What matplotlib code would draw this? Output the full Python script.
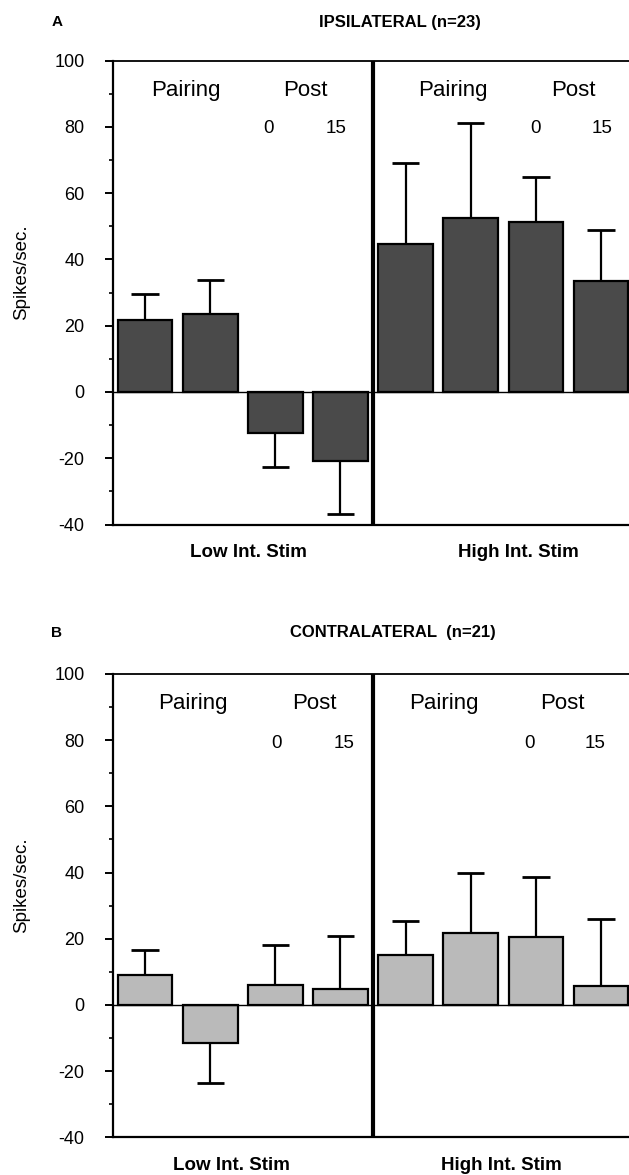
import matplotlib
matplotlib.use("Agg")
import matplotlib.pyplot as plt
import numpy as np

plt.rcParams["font.family"] = ["Liberation Sans", "DejaVu Sans"]
plt.rcParams["axes.unicode_minus"] = False

conditions = ["Low Pairing 1", "Low Pairing 2", "Low Post 0", "Low Post 15",
              "High Pairing 1", "High Pairing 2", "High Post 0", "High Post 15"]

ipsi_mean = [21.7, 23.6, -12.3, -20.8, 44.6, 52.4, 51.2, 33.6]
ipsi_err = [7.8, 10.3, 10.4, 16.1, 24.4, 28.6, 13.7, 15.4]

contra_mean = [9.0, -11.6, 6.1, 4.9, 15.0, 21.7, 20.6, 5.8]
contra_err = [7.5, 12.0, 12.0, 16.0, 10.4, 18.2, 18.1, 20.1]

W, H = 629, 1175
fig = plt.figure(figsize=(W / 100, H / 100), dpi=100)
fig.patch.set_facecolor("white")


def panel(rect, mean, err, color, letter, title, title_x, title_y, texts, xlab):
    ax = fig.add_axes(rect)
    x = np.arange(len(mean))
    m = np.array(mean)
    e = np.array(err)
    # one-sided error bars, pointing away from zero
    end = m + np.sign(m) * e
    ax.vlines(x, m, end, color="black", lw=1.6, zorder=2)
    ax.hlines(end, x - 0.21, x + 0.21, color="black", lw=2, zorder=2)
    ax.bar(x, m, width=0.84, color=color, edgecolor="black", linewidth=1.6, zorder=3)
    ax.axhline(0, color="black", lw=1.0, zorder=4)
    ax.axvline(3.5, color="black", lw=3, zorder=5)
    ax.set_xlim(-0.5, 7.43)
    ax.set_ylim(-40, 100)
    ax.set_yticks(np.arange(-40, 101, 20))
    ax.set_yticks(np.arange(-30, 100, 20), minor=True)
    ax.tick_params(axis="y", which="major", direction="out", length=6, width=1.4,
                   pad=14, labelsize=13)
    ax.tick_params(axis="y", which="minor", direction="out", length=3, width=1.2)
    ax.set_xticks([])
    ax.spines["right"].set_visible(False)
    for s in ("left", "bottom", "top"):
        ax.spines[s].set_linewidth(1.6)
    ax.spines["top"].set_linewidth(1.3)

    for (tx, ty, t, fs) in texts:
        ax.text(tx, ty, t, ha="center", va="center", fontsize=fs)
    for (tx, t) in xlab:
        ax.text(tx, -48.5, t, ha="center", va="center", fontsize=13.5,
                fontweight="bold")

    fig.text(57 / W, 1 - title_y / H, letter, ha="center", va="center",
             fontsize=11, fontweight="bold")
    fig.text(title_x / W, 1 - title_y / H, title, ha="center", va="center",
             fontsize=12, fontweight="bold")
    return ax


top_texts = [(0.63, 91, "Pairing", 16), (2.46, 91, "Post", 16),
             (1.89, 79.5, "0", 13.5), (2.93, 79.5, "15", 13.5),
             (4.72, 91, "Pairing", 16), (6.57, 91, "Post", 16),
             (5.99, 79.5, "0", 13.5), (7.01, 79.5, "15", 13.5)]
bot_texts = [(0.74, 91, "Pairing", 16), (2.60, 91, "Post", 16),
             (2.02, 79, "0", 13.5), (3.06, 79, "15", 13.5),
             (4.59, 91, "Pairing", 16), (6.41, 91, "Post", 16),
             (5.90, 79, "0", 13.5), (6.91, 79, "15", 13.5)]

ax1 = panel([112.5 / W, 1 - 524.6 / H, 1 - 112.5 / W, 464.1 / H],
            ipsi_mean, ipsi_err, "#4a4a4a", "A", "IPSILATERAL (n=23)", 400, 22,
            top_texts, [(1.58, "Low Int. Stim"), (5.73, "High Int. Stim")])
ax2 = panel([112.5 / W, 1 - 1137.3 / H, 1 - 112.5 / W, 463.3 / H],
            contra_mean, contra_err, "#bababa", "B", "CONTRALATERAL  (n=21)", 393, 633,
            bot_texts, [(1.33, "Low Int. Stim"), (5.47, "High Int. Stim")])

fig.text(21.7 / W, 1 - 272 / H, "Spikes/sec.", rotation=90, ha="center",
         va="center", fontsize=13.5)
fig.text(21.7 / W, 1 - 885 / H, "Spikes/sec.", rotation=90, ha="center",
         va="center", fontsize=13.5)

fig.savefig("out.png", dpi=100, facecolor="white")
